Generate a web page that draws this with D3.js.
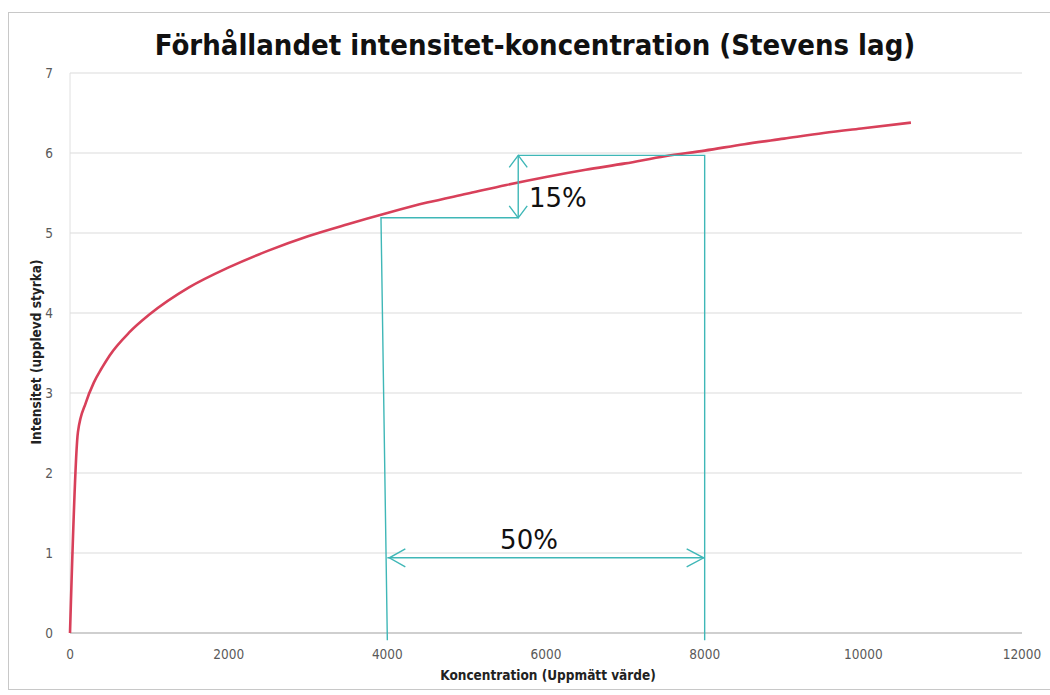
<!DOCTYPE html>
<html>
<head>
<meta charset="utf-8">
<script src="https://cdn.jsdelivr.net/npm/d3@7"></script>
<style>
  body { margin: 0; background: #fff; }
  svg { display: block; }
</style>
</head>
<body>
<div id="root"></div>
<script>
// values
const concentration = [0, 100, 200, 300, 400, 500, 750, 1000, 1500, 2000, 2500, 3000, 3500, 4000,
  4500, 5000, 5500, 6000, 6500, 7000, 7500, 8000, 8500, 9000, 9500, 10000, 10600]
const intensity = [0, 2.51, 2.88, 3.13, 3.31, 3.47, 3.76, 3.98, 4.32, 4.57, 4.78, 4.96, 5.11, 5.25,
  5.38, 5.49, 5.60, 5.70, 5.79, 5.87, 5.96, 6.03, 6.11, 6.18, 6.25, 6.31, 6.38]
const xTicks = [0, 2000, 4000, 6000, 8000, 10000, 12000]
const yTicks = [0, 1, 2, 3, 4, 5, 6, 7]

// annotation: 4000 -> 8000 (50%) gives 5.19 -> 5.97 (15%)
const annoLow = 5.19
const annoHigh = 5.97
const annoMid = 5650
const annoArrowY = 0.94
const annoBottom = -0.09

const W = 1050, H = 695
const m = { left: 70, right: 1022, top: 73, bottom: 633 }

const svg = d3.select('#root').append('svg').attr('width', W).attr('height', H)

svg.append('rect').attr('x', 8.5).attr('y', 12.5).attr('width', 1050).attr('height', 677)
  .attr('fill', '#fff').attr('stroke', '#c8c8c8')

const x = d3.scaleLinear().domain([0, 12000]).range([m.left, m.right])
const y = d3.scaleLinear().domain([0, 7]).range([m.bottom, m.top])

// grid
svg.append('g').selectAll('line').data(yTicks).join('line')
  .attr('x1', m.left).attr('x2', m.right)
  .attr('y1', d => y(d)).attr('y2', d => y(d))
  .attr('stroke', d => d === 0 ? '#cfcfcf' : '#dcdcdc').attr('stroke-width', d => d === 0 ? 2 : 1.2)
svg.append('line').attr('x1', m.left).attr('x2', m.left).attr('y1', m.top).attr('y2', m.bottom)
  .attr('stroke', '#e0e0e0')

const tickFont = "'DejaVu Sans Condensed', 'DejaVu Sans', sans-serif"
svg.append('g').selectAll('text').data(yTicks).join('text')
  .attr('x', 53).attr('y', d => y(d) + 5)
  .attr('text-anchor', 'end').attr('font-family', tickFont).attr('font-size', 13.5)
  .attr('fill', '#595959').text(d => d)
svg.append('g').selectAll('text').data(xTicks).join('text')
  .attr('x', d => x(d)).attr('y', 659)
  .attr('text-anchor', 'middle').attr('font-family', tickFont).attr('font-size', 13.5)
  .attr('fill', '#595959').text(d => d)

// titles
svg.append('text').attr('x', 535).attr('y', 55).attr('text-anchor', 'middle')
  .attr('font-family', tickFont).attr('font-weight', 'bold').attr('font-size', 29)
  .attr('fill', '#111').text('Förhållandet intensitet-koncentration (Stevens lag)')
svg.append('text').attr('x', 548).attr('y', 680).attr('text-anchor', 'middle')
  .attr('font-family', tickFont).attr('font-weight', 'bold').attr('font-size', 13.5)
  .attr('fill', '#222').text('Koncentration (Uppmätt värde)')
svg.append('text').attr('transform', 'translate(41,352) rotate(-90)').attr('text-anchor', 'middle')
  .attr('font-family', tickFont).attr('font-weight', 'bold').attr('font-size', 13.5)
  .attr('fill', '#222').text('Intensitet (upplevd styrka)')

// curve
const pts = concentration.map((c, i) => [c, intensity[i]])
svg.append('path').datum(pts)
  .attr('d', d3.line().x(d => x(d[0])).y(d => y(d[1])).curve(d3.curveMonotoneX))
  .attr('fill', 'none').attr('stroke', '#d8405a').attr('stroke-width', 2.6)

// annotation
const teal = '#3fb7b7'
const g = svg.append('g').attr('stroke', teal).attr('stroke-width', 1.4).attr('fill', 'none')
g.append('path').attr('d', d3.line()([
  [x(4000), y(annoBottom)], [x(3920), y(annoLow)], [x(annoMid), y(annoLow)]]))
g.append('path').attr('d', d3.line()([
  [x(annoMid), y(annoHigh)], [x(8000), y(annoHigh)], [x(8000), y(annoBottom)]]))
g.append('line').attr('x1', x(annoMid)).attr('x2', x(annoMid))
  .attr('y1', y(annoHigh)).attr('y2', y(annoLow))
g.append('line').attr('x1', x(4000)).attr('x2', x(8000))
  .attr('y1', y(annoArrowY)).attr('y2', y(annoArrowY))
const ah = 12, aw = 9
const xm = x(annoMid), yh = y(annoHigh), yl = y(annoLow)
g.append('path').attr('d', `M${xm - aw},${yh + ah}L${xm},${yh}L${xm + aw},${yh + ah}`)
g.append('path').attr('d', `M${xm - aw},${yl - ah}L${xm},${yl}L${xm + aw},${yl - ah}`)
const ya = y(annoArrowY), xa = x(4000), xb = x(8000)
g.append('path').attr('d', `M${xa + 18},${ya - 9}L${xa + 2},${ya}L${xa + 18},${ya + 9}`)
g.append('path').attr('d', `M${xb - 18},${ya - 9}L${xb - 1},${ya}L${xb - 18},${ya + 9}`)

svg.append('text').attr('x', 529).attr('y', y(annoLow) - 11)
  .attr('font-family', "'DejaVu Sans', sans-serif").attr('font-size', 26).attr('fill', '#111')
  .text('15%')
svg.append('text').attr('x', 529).attr('y', ya - 9).attr('text-anchor', 'middle')
  .attr('font-family', "'DejaVu Sans', sans-serif").attr('font-size', 26).attr('fill', '#111')
  .text('50%')
</script>
</body>
</html>
